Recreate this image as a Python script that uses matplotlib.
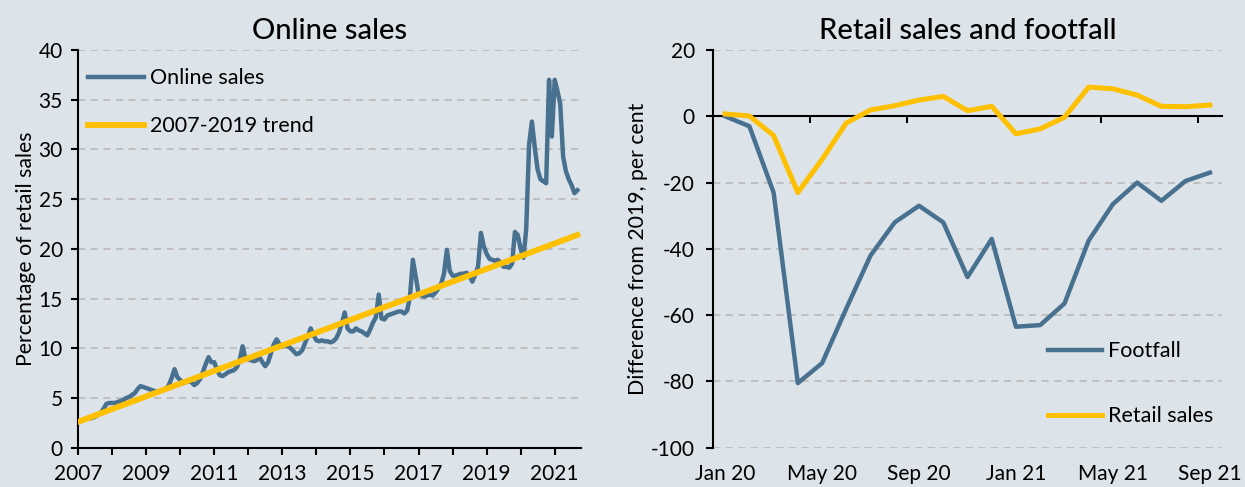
import numpy as np
import pandas as pd
import matplotlib
matplotlib.use('Agg')
import matplotlib.pyplot as plt
import matplotlib.dates as mdates
from matplotlib.ticker import MultipleLocator, FixedLocator, NullFormatter, FuncFormatter

plt.rcParams['font.family'] = ['Lato', 'DejaVu Sans']
plt.rcParams['axes.unicode_minus'] = False

# online sales, per cent of retail sales, monthly from Jan 2007
online = [
    2.6, 2.7, 2.8, 2.9, 2.95, 3.0, 3.1, 3.3, 3.5, 3.9, 4.4, 4.5,        # 2007
    4.5, 4.5, 4.6, 4.7, 4.8, 5.0, 5.1, 5.3, 5.5, 5.9, 6.2, 6.1,         # 2008
    6.0, 5.9, 5.8, 5.7, 5.65, 5.7, 5.8, 5.9, 6.3, 7.0, 7.9, 7.1,        # 2009
    6.8, 6.5, 6.6, 6.7, 6.6, 6.3, 6.5, 6.9, 7.6, 8.4, 9.1, 8.6,         # 2010
    8.6, 7.8, 7.3, 7.2, 7.4, 7.6, 7.7, 7.8, 8.1, 8.8, 10.2, 9.0,        # 2011
    8.9, 8.8, 8.7, 8.8, 9.1, 8.6, 8.2, 8.6, 9.5, 10.4, 10.9, 10.4,      # 2012
    10.2, 10.3, 10.2, 10.0, 9.7, 9.4, 9.5, 9.8, 10.5, 11.2, 12.0, 11.3, # 2013
    10.8, 10.7, 10.8, 10.7, 10.7, 10.6, 10.7, 11.0, 11.6, 12.5, 13.6, 12.0,  # 2014
    11.7, 11.7, 12.0, 11.8, 11.7, 11.5, 11.3, 11.9, 12.6, 13.1, 15.4, 13.0,  # 2015
    12.9, 13.3, 13.4, 13.5, 13.6, 13.7, 13.7, 13.5, 13.8, 15.2, 18.9, 17.2,  # 2016
    15.5, 15.3, 15.2, 15.3, 15.4, 15.3, 15.6, 16.0, 16.5, 17.5, 19.9, 17.8,  # 2017
    17.3, 17.3, 17.4, 17.5, 17.5, 17.6, 17.3, 16.7, 17.4, 18.2, 21.6, 20.3,  # 2018
    19.5, 19.0, 18.9, 18.8, 18.9, 18.6, 18.2, 18.2, 18.1, 18.5, 21.7, 21.4,  # 2019
    20.0, 19.1, 22.0, 30.5, 32.8, 30.2, 28.0, 27.0, 26.8, 26.6, 37.0, 31.3,  # 2020
    37.0, 35.8, 34.6, 29.3, 27.8, 27.0, 26.4, 25.6, 25.9,                    # 2021
]
online_dates = pd.date_range('2007-01-01', periods=len(online), freq='MS')

# straight trend line fitted over 2007-2019, start and end values
trend_dates = pd.to_datetime(['2007-01-01', '2021-09-01'])
trend = [2.6, 21.4]

# right panel: difference from 2019, per cent
months = ['Jan 20', 'Feb 20', 'Mar 20', 'Apr 20', 'May 20', 'Jun 20', 'Jul 20',
          'Aug 20', 'Sep 20', 'Oct 20', 'Nov 20', 'Dec 20', 'Jan 21', 'Feb 21',
          'Mar 21', 'Apr 21', 'May 21', 'Jun 21', 'Jul 21', 'Aug 21', 'Sep 21']
footfall = [0, -3, -23, -80.5, -74.5, -58, -42, -32, -27, -32, -48.5, -37,
            -63.5, -63, -56.5, -37.5, -26.5, -20, -25.5, -19.5, -17]
retail = [0.7, 0.1, -5.8, -23, -13, -2, 1.9, 3.2, 4.9, 6.0, 1.7, 3.0,
          -5.3, -3.8, -0.3, 8.8, 8.3, 6.4, 3.0, 2.9, 3.4]

bg = '#dce3e9'
blue = '#48708f'
yellow = '#ffc000'
grid = '#bdbdbd'
TICK = 15
LAB = 15.3

fig = plt.figure(figsize=(12.45, 4.87), dpi=100, facecolor=bg)

# ---- left: online sales
ax1 = fig.add_axes([0.0627, 0.0807, 0.4036, 0.8166], facecolor=bg)
ax1.plot(online_dates, online, color=blue, lw=3.2, label='Online sales', zorder=3)
ax1.plot(trend_dates, trend, color=yellow, lw=4.2, label='2007-2019 trend', zorder=4)
ax1.set_ylim(0, 40)
ax1.set_xlim(pd.Timestamp('2007-01-01'), pd.Timestamp('2021-10-05'))
ax1.yaxis.set_major_locator(MultipleLocator(5))
ax1.xaxis.set_major_locator(mdates.YearLocator(1))
ax1.xaxis.set_major_formatter(FuncFormatter(
    lambda v, p: mdates.num2date(v).strftime('%Y') if mdates.num2date(v).year % 2 == 1 else ''))
for y in range(5, 41, 5):
    ax1.axhline(y, color=grid, lw=1.3, ls=(0, (4, 3)), zorder=1)
ax1.set_title('Online sales', fontsize=21, fontweight='medium', pad=8)
ax1.set_ylabel('Percentage of retail sales', fontsize=LAB, labelpad=2)
ax1.legend(loc='upper left', bbox_to_anchor=(-0.016, 1.0), frameon=False,
           fontsize=15.5, handlelength=2.6, handletextpad=0.25, labelspacing=1.3,
           borderaxespad=0.45)

# ---- right: retail sales and footfall
ax2 = fig.add_axes([0.5727, 0.0807, 0.4088, 0.8166], facecolor=bg)
x = np.arange(len(months))
ax2.plot(x, footfall, color=blue, lw=3.2, label='Footfall', zorder=3)
ax2.plot(x, retail, color=yellow, lw=3.6, label='Retail sales', zorder=4)
ax2.set_ylim(-100, 20)
ax2.set_xlim(-0.5, len(months) - 0.5)
ax2.yaxis.set_major_locator(MultipleLocator(20))
for y in range(-100, 21, 20):
    if y != 0:
        ax2.axhline(y, color=grid, lw=1.3, ls=(0, (4, 3)), zorder=1)
ax2.spines['bottom'].set_position(('data', 0))
ax2.xaxis.set_major_locator(FixedLocator(np.arange(3.5, len(months), 4)))
ax2.xaxis.set_major_formatter(NullFormatter())
sec = ax2.secondary_xaxis('bottom')
sec.set_xticks(x[::4])
sec.set_xticklabels(months[::4])
sec.tick_params(length=0, labelsize=TICK, pad=12)
sec.spines['bottom'].set_visible(False)
ax2.set_title('Retail sales and footfall', fontsize=21, fontweight='medium', pad=8)
ax2.set_ylabel('Difference from 2019, per cent', fontsize=LAB, labelpad=2)
ax2.legend(loc='lower right', bbox_to_anchor=(1.02, 0.005), frameon=False,
           fontsize=15.5, handlelength=2.5, handletextpad=0.25, labelspacing=2.1)

for ax in (ax1, ax2):
    for s in ('top', 'right'):
        ax.spines[s].set_visible(False)
    ax.spines['left'].set_linewidth(1.5)
    ax.spines['bottom'].set_linewidth(1.5)
    ax.tick_params(which='both', direction='out', length=5, width=1.5,
                   labelsize=TICK, color='black')
ax1.tick_params(axis='x', pad=7)
ax1.tick_params(axis='y', pad=6)
ax2.tick_params(axis='y', pad=8)

fig.savefig('out.png', dpi=100, facecolor=bg)
